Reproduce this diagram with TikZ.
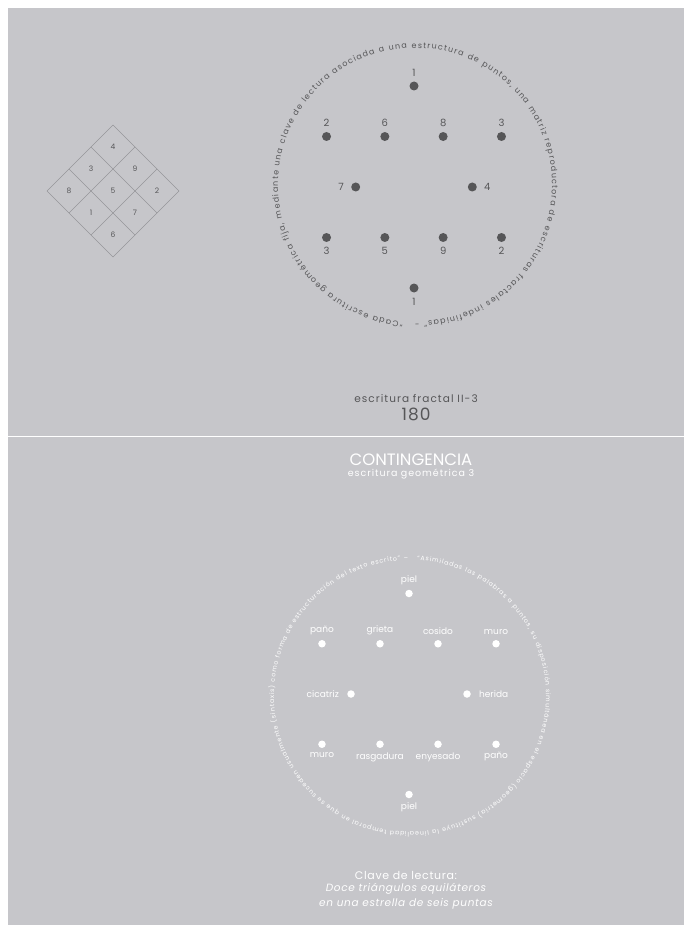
\documentclass[tikz,border=0pt]{standalone}
\usepackage{fontspec}
\setmainfont{Poppins}
\setsansfont{Poppins}
\newfontfamily\spaced[LetterSpace=10]{Poppins}
\newfontfamily\wide[LetterSpace=6]{Poppins}
\usetikzlibrary{positioning,calc,decorations.text}
\definecolor{paper}{RGB}{198,198,202}
\definecolor{ink}{RGB}{86,86,88}
\definecolor{grid}{RGB}{150,150,154}

\begin{document}
\begin{tikzpicture}[x=1pt,y=-1pt,
    dark dot/.style={circle,fill=ink,inner sep=0pt,minimum size=9pt},
    light dot/.style={circle,fill=white,inner sep=0pt,minimum size=7.5pt},
    num/.style={font=\fontsize{10}{10}\selectfont,text=ink,inner sep=1pt},
    word/.style={font=\fontsize{9}{9}\selectfont,text=white,inner sep=1pt},
    cell/.style={font=\fontsize{7.5}{8}\selectfont,text=ink,inner sep=0pt}]
  \useasboundingbox (0,0) rectangle (684,925);
  \fill[white] (0,0) rectangle (684,925);
  \fill[paper] (8,8) rectangle (684,925);
  \draw[white,line width=0.8pt] (8,436) -- (684,436);% Falz

  % Lo-Shu-Raute
  \coordinate (L) at (47,191);
  \coordinate (T) at (113,125);
  \coordinate (R) at (179,191);
  \coordinate (B) at (113,257);
  \foreach \k in {0,1,2,3} {
    \draw[grid,line width=0.4pt] ($(L)!\k/3!(B)$) -- ($(T)!\k/3!(R)$);
    \draw[grid,line width=0.4pt] ($(L)!\k/3!(T)$) -- ($(B)!\k/3!(R)$);
  }
  \foreach \i/\j/\n in {0/0/8,1/0/3,2/0/4,0/1/1,1/1/5,2/1/9,0/2/6,1/2/7,2/2/2}
    \node[cell] (q\n) at (69+22*\i+22*\j, 191-22*\i+22*\j) {\n};

  % Stern oben
  \coordinate (c1) at (414,187);
  \foreach \a/\r/\t/\p/\d [count=\i] in {270/101/1/above/4pt, 210/101/2/above/4pt,
      240/58.3/6/above/4pt, 300/58.3/8/above/4pt, 330/101/3/above/4pt,
      180/58.3/7/left/6pt, 0/58.3/4/right/6pt, 150/101/3/below/4pt,
      120/58.3/5/below/4pt, 60/58.3/9/below/4pt, 30/101/2/below/4pt, 90/101/1/below/4pt} {
    \node[dark dot] (u\i) at ($(c1)+(\a:\r)$) {};
    \node[num,\p=\d of u\i] (un\i) {\t};
  }
  \path[decorate,decoration={text along path,text align=fit to path,text color=ink,
      text={|\fontsize{8}{8}\selectfont|“Cada escritura geométrica fija, mediante una clave de lectura asociada a una estructura de puntos, una matriz reproductora de escrituras fractales indefinidas” -}}]
    (415,185) ++(95:137) arc[start angle=95,end angle=450,radius=137];

  \node[font=\spaced\fontsize{10.5}{11}\selectfont,text=ink] (frac) at (416,399) {escritura fractal II-3};
  \node[font=\wide\fontsize{17}{17}\selectfont,text=ink,below=-2pt of frac] (page) {180};

  \node[font=\fontsize{16.5}{17}\selectfont,text=white] (cont) at (411,460) {CONTINGENCIA};
  \node[font=\spaced\fontsize{9.5}{10}\selectfont,text=white,below=-4pt of cont] (geo) {escritura geométrica 3};

  % Stern unten
  \coordinate (c2) at (409,694);
  \foreach \a/\r/\t/\p/\d [count=\i] in {270/100.5/piel/above/4pt, 210/100.5/paño/above/4pt,
      240/58/grieta/above/4pt, 300/58/cosido/above/4pt, 330/100.5/muro/above/4pt,
      180/58/cicatriz/left/7pt, 0/58/herida/right/7pt, 150/100.5/muro/below/3pt,
      120/58/rasgadura/below/3pt, 60/58/enyesado/below/3pt, 30/100.5/paño/below/3pt,
      90/100.5/piel/below/3pt} {
    \node[light dot] (w\i) at ($(c2)+(\a:\r)$) {};
    \node[word,\p=\d of w\i] (wn\i) {\t};
  }
  \path[decorate,decoration={text along path,text align=fit to path,text color=white,
      text={|\fontsize{6.3}{7}\selectfont|“Asimiladas las palabras a puntos, su disposición simultánea en el espacio (geometría) sustituye la linealidad temporal en que se suceden usualmente (sintaxis) como forma de estructuración del texto escrito” –}}]
    (410,696) ++(273:136) arc[start angle=273,end angle=629,radius=136];

  \node[font=\wide\fontsize{11}{12}\selectfont,text=white] (clave) at (406,875) {Clave de lectura:};
  \node[font=\wide\itshape\fontsize{10.5}{11}\selectfont,text=white,below=-2.5pt of clave] (doce) {Doce triángulos equiláteros};
  \node[font=\wide\itshape\fontsize{10.5}{11}\selectfont,text=white,below=-3.5pt of doce] (estr) {en una estrella de seis puntas};
\end{tikzpicture}
\end{document}
